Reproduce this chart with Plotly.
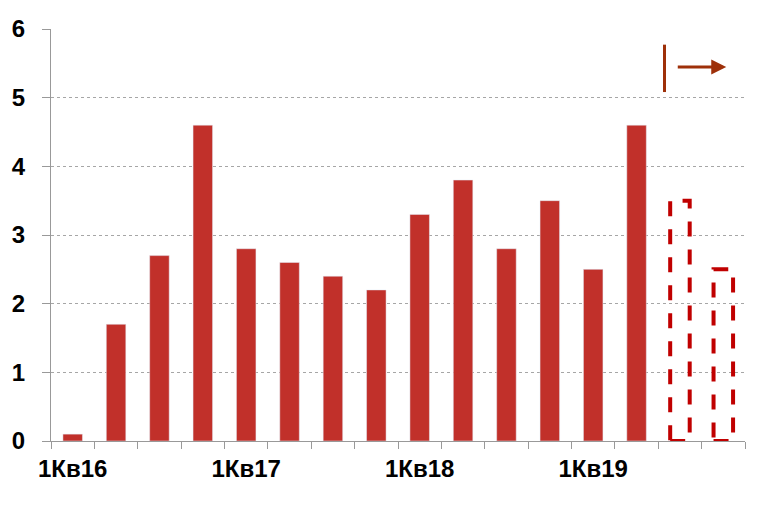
import plotly.graph_objects as go

# ── data ─────────────────────────────────────
QUARTERS = [f"{q}Кв{y}" for y in (16, 17, 18, 19) for q in (1, 2, 3, 4)]
ACTUAL   = [0.1, 1.7, 2.7, 4.6, 2.8, 2.6, 2.4, 2.2, 3.3, 3.8, 2.8, 3.5, 2.5, 4.6]
FORECAST = [3.5, 2.5]          # 3Кв19, 4Кв19 (dashed)
TICK_TEXT = [q if q.startswith("1Кв") else "" for q in QUARTERS]
Y_TICKS   = [0, 1, 2, 3, 4, 5, 6]

BAR_RED      = "#C1302A"
FORECAST_RED = "#C00000"
ARROW_RED    = "#9E3009"
FONT         = "Liberation Sans, Arial, sans-serif"
BAR_W        = 0.45

fig = go.Figure(go.Bar(
    x            = QUARTERS,
    y            = ACTUAL + [None] * len(FORECAST),
    marker_color = BAR_RED,
    width        = BAR_W,
    hovertemplate = "%{x}: %{y}<extra></extra>",
))

# forecast bars: dashed outlines on category positions
first_fc = len(ACTUAL)
for i, v in enumerate(FORECAST):
    idx = first_fc + i
    fig.add_shape(
        type="rect", xref="x", yref="y",
        x0=idx - BAR_W / 2, x1=idx + BAR_W / 2, y0=0, y1=v,
        line=dict(color=FORECAST_RED, width=4, dash="15px,13px"),
        fillcolor="rgba(0,0,0,0)",
    )

# forecast marker: vertical bar + arrow
fig.add_shape(
    type="line", xref="paper", yref="paper",
    x0=0.884, x1=0.884, y0=0.847, y1=0.962,
    line=dict(color=ARROW_RED, width=3),
)
fig.add_annotation(
    xref="paper", yref="paper",
    x=0.973, y=0.908, ax=-50, ay=0,
    showarrow=True, arrowhead=2, arrowsize=1, arrowwidth=3,
    arrowcolor=ARROW_RED, text="",
)

# page body adds an 8px offset, so margins are trimmed by that amount
fig.update_layout(
    width  = 766,
    height = 515,
    margin = dict(l=43, r=29, t=21, b=82),
    paper_bgcolor = "white",
    plot_bgcolor  = "white",
    showlegend = False,
    font = dict(family=FONT, size=24, color="black"),
    xaxis = dict(
        type        = "category",
        tickmode    = "array",
        tickvals    = QUARTERS,
        ticktext    = TICK_TEXT,
        tickson     = "boundaries",
        tickangle   = 0,
        ticks       = "outside",
        ticklen     = 7,
        tickcolor   = "#999999",
        showline    = True,
        linecolor   = "#999999",
        linewidth   = 1,
        showgrid    = False,
        automargin  = False,
        ticklabelstandoff = 6,
        tickfont    = dict(family=FONT, size=24, weight="bold"),
        range       = [-0.5, len(QUARTERS) - 0.5],
    ),
    yaxis = dict(
        range       = [0, 6],
        tickvals    = Y_TICKS,
        ticks       = "outside",
        ticklen     = 8,
        tickcolor   = "#999999",
        showline    = True,
        linecolor   = "#999999",
        linewidth   = 1,
        showgrid    = True,
        gridcolor   = "#A6A6A6",
        griddash    = "dot",
        gridwidth   = 1,
        zeroline    = False,
        automargin  = False,
        ticklabelstandoff = 12,
        tickfont    = dict(family=FONT, size=24, weight="bold"),
    ),
)

fig.write_html("out.html")
